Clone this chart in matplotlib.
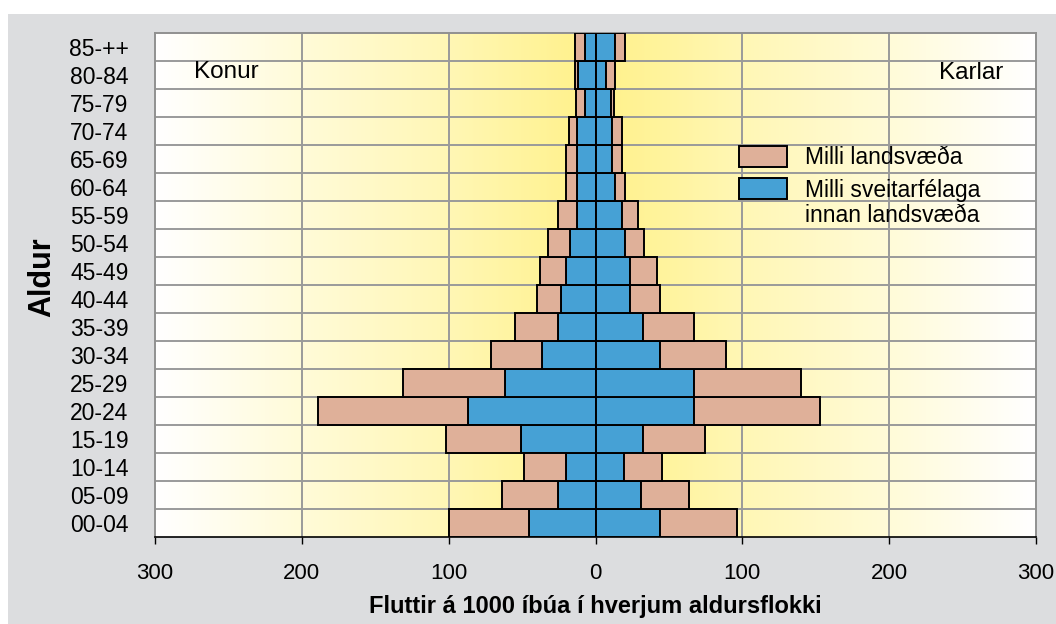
import matplotlib

matplotlib.use('Agg')
import matplotlib.pyplot as plt
import numpy as np
from matplotlib.colors import LinearSegmentedColormap
from matplotlib.patches import Rectangle
from matplotlib.ticker import FuncFormatter

plt.rcParams['font.family'] = ['Liberation Sans', 'DejaVu Sans']

# age groups, bottom to top
aldur = ['00-04', '05-09', '10-14', '15-19', '20-24', '25-29', '30-34', '35-39', '40-44',
         '45-49', '50-54', '55-59', '60-64', '65-69', '70-74', '75-79', '80-84', '85-++']

# Konur (left side)
konur_sveit = [45.3, 25.6, 20.2, 50.9, 87.1, 61.8, 36.3, 25.4, 23.2,
               19.8, 17.7, 12.3, 12.3, 12.3, 12.3, 7.0, 12.0, 7.0]
konur_lands = [54.7, 38.2, 28.7, 51.1, 102.0, 69.2, 34.8, 29.2, 16.6,
               18.1, 14.8, 12.9, 7.7, 7.7, 5.9, 6.0, 2.3, 7.3]

# Karlar (right side)
karlar_sveit = [43.6, 30.7, 19.7, 32.4, 67.2, 67.2, 43.6, 32.5, 23.6,
                23.6, 20.0, 18.2, 13.0, 10.9, 10.9, 10.7, 7.3, 13.0]
karlar_lands = [52.8, 33.1, 25.6, 42.1, 85.4, 72.8, 45.3, 34.8, 20.0,
                18.4, 12.7, 10.9, 7.4, 7.3, 7.3, 1.8, 5.7, 7.4]

ticks = [-300, -200, -100, 0, 100, 200, 300]

PINK = '#dfb099'
BLUE = '#46a1d5'
GRID = '#9a9a9a'

fig = plt.figure(figsize=(10.56, 6.24), dpi=100, facecolor='white')
# grey panel (white strip at top and left like the original)
fig.patches.append(Rectangle((8 / 1056, 0), 1, (624 - 14) / 624, transform=fig.transFigure,
                             facecolor='#dcdddf', edgecolor='none', zorder=-10))

ax = fig.add_axes([155 / 1056, 87 / 624, 881 / 1056, 504 / 624])

y = np.arange(len(aldur))

# background gradient: white at the edges, yellow in the middle
xs = np.linspace(-300, 300, 601)
grad = (1 - np.abs(xs) / 300)[np.newaxis, :]
cmap = LinearSegmentedColormap.from_list('bg', ['#ffffff', '#fffbd8', '#fff7b5', '#fff189'])
ax.imshow(grad, extent=(-300, 300, -0.5, len(aldur) - 0.5), aspect='auto',
          cmap=cmap, zorder=0, interpolation='bilinear')

# grid lines
for t in [-200, -100, 100, 200]:
    ax.axvline(t, color=GRID, lw=1.4, zorder=1)
for i in range(len(aldur) - 1):
    ax.axhline(i + 0.5, color=GRID, lw=1.4, zorder=1)

ks = np.array(konur_sveit)
kl = np.array(konur_lands)
ms = np.array(karlar_sveit)
ml = np.array(karlar_lands)

ax.barh(y, -ks, height=1.0, color=BLUE, edgecolor='black', lw=1.4, zorder=3,
        label='Milli sveitarfélaga')
ax.barh(y, -kl, left=-ks, height=1.0, color=PINK, edgecolor='black', lw=1.4, zorder=3,
        label='Milli landsvæða')
ax.barh(y, ms, height=1.0, color=BLUE, edgecolor='black', lw=1.4, zorder=3)
ax.barh(y, ml, left=ms, height=1.0, color=PINK, edgecolor='black', lw=1.4, zorder=3)

ax.set_xlim(-300, 300)
ax.set_ylim(-0.5, len(aldur) - 0.5)
ax.set_xticks(ticks)
ax.xaxis.set_major_formatter(FuncFormatter(lambda v, p: '{:.0f}'.format(abs(v))))
ax.set_yticks(y)
ax.set_yticklabels(aldur)
ax.tick_params(axis='y', length=0, pad=19, labelsize=16.5)
ax.tick_params(axis='x', direction='out', length=5, width=1, color='black', pad=14, labelsize=16)

for s in ['top', 'left', 'right']:
    ax.spines[s].set_color('#909090')
    ax.spines[s].set_linewidth(1.4)
ax.spines['bottom'].set_color('black')
ax.spines['bottom'].set_linewidth(1.2)

ax.set_xlabel('Fluttir á 1000 íbúa í hverjum aldursflokki', fontsize=17, fontweight='bold')
ax.xaxis.label.set_va('center')
ax.xaxis.set_label_coords(0.5, -0.137)
ax.set_ylabel('Aldur', fontsize=22, fontweight='bold')
ax.yaxis.label.set_va('center')
ax.yaxis.set_label_coords(-0.128, 0.516)

ax.text(0.044, 0.923, 'Konur', transform=ax.transAxes, ha='left', va='center', fontsize=17.5)
ax.text(0.9625, 0.921, 'Karlar', transform=ax.transAxes, ha='right', va='center', fontsize=17.5)

h, l = ax.get_legend_handles_labels()
leg = ax.legend(h[::-1], l[::-1], loc='upper left', bbox_to_anchor=(739 / 1056, 1 - 146 / 624),
                bbox_transform=fig.transFigure, frameon=False, fontsize=16.5, borderpad=0,
                borderaxespad=0, handlelength=2.1, handleheight=1.05, handletextpad=0.8,
                labelspacing=0.38)

# second line of the blue legend entry
fig.canvas.draw()
bb = leg.get_texts()[1].get_window_extent()
fig.text(bb.x0 / 1056, (bb.y0 - 25 + bb.height / 2) / 624, 'innan landsvæða',
         ha='left', va='center', fontsize=16.5)

plt.savefig('out.png', dpi=100, facecolor=fig.get_facecolor())
